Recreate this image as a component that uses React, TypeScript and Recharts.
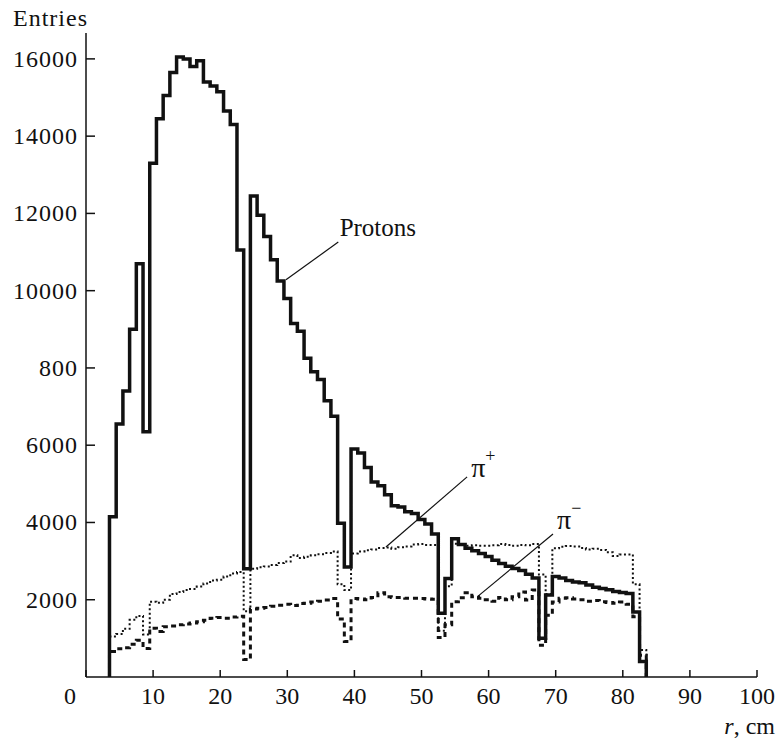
import { LineChart, Line, XAxis, YAxis, ReferenceLine, ReferenceDot } from 'recharts';

// lower edge of every 1 cm bin, r in cm
const binLow = [
  3.5, 4.5, 5.5, 6.5, 7.5, 8.5, 9.5, 10.5, 11.5, 12.5, 13.5, 14.5, 15.5, 16.5, 17.5, 18.5,
  19.5, 20.5, 21.5, 22.5, 23.5, 24.5, 25.5, 26.5, 27.5, 28.5, 29.5, 30.5, 31.5, 32.5, 33.5, 34.5,
  35.5, 36.5, 37.5, 38.5, 39.5, 40.5, 41.5, 42.5, 43.5, 44.5, 45.5, 46.5, 47.5, 48.5, 49.5, 50.5,
  51.5, 52.5, 53.5, 54.5, 55.5, 56.5, 57.5, 58.5, 59.5, 60.5, 61.5, 62.5, 63.5, 64.5, 65.5, 66.5,
  67.5, 68.5, 69.5, 70.5, 71.5, 72.5, 73.5, 74.5, 75.5, 76.5, 77.5, 78.5, 79.5, 80.5, 81.5, 82.5,
];
const lastEdge = 83.5;

const protons = [
  4150, 6550, 7400, 9000, 10700, 6350, 13300, 14450, 15050, 15650, 16050, 16000, 15800, 15950, 15400, 15300,
  15150, 14650, 14300, 11050, 2800, 12450, 11950, 11400, 10800, 10250, 9800, 9150, 8950, 8250, 7900, 7700,
  7150, 6750, 3980, 2850, 5900, 5800, 5420, 5050, 4950, 4720, 4430, 4400, 4280, 4230, 4080, 3960,
  3700, 1650, 2550, 3580, 3430, 3330, 3270, 3200, 3120, 3020, 2940, 2870, 2810, 2760, 2660, 2560,
  1000, 2120, 2600, 2560, 2500, 2460, 2440, 2380, 2320, 2290, 2260, 2210, 2190, 2160, 1680, 400,
];

const piPlus = [
  1050, 1110, 1250, 1480, 1580, 1100, 1950, 1920, 2000, 2150, 2200, 2250, 2280, 2340, 2420, 2500,
  2520, 2600, 2680, 2720, 1700, 2800, 2840, 2860, 2900, 2950, 2990, 3150, 3080, 3110, 3150, 3180,
  3210, 3250, 2400, 2250, 3200, 3250, 3280, 3300, 3340, 3350, 3320, 3360, 3380, 3430, 3440, 3420,
  3420, 1200, 2350, 3450, 3420, 3400, 3410, 3400, 3400, 3410, 3440, 3420, 3400, 3420, 3410, 3440,
  2650, 2150, 3330, 3370, 3390, 3380, 3340, 3300, 3320, 3290, 3230, 3130, 3170, 3170, 2400, 700,
];

const piMinus = [
  660, 730, 760, 850, 950, 740, 1260, 1180, 1300, 1320, 1350, 1370, 1400, 1430, 1470, 1520,
  1540, 1520, 1550, 1570, 450, 1760, 1780, 1800, 1830, 1860, 1880, 1850, 1900, 1910, 1940, 1960,
  1990, 2030, 1500, 920, 2030, 2020, 2000, 2060, 2180, 2080, 2060, 2060, 2040, 2040, 2030, 2020,
  2010, 1020, 1350, 1950, 2050, 2180, 2080, 2040, 2000, 1960, 2060, 2000, 2080, 2200, 1990, 2250,
  820, 1600, 1940, 2040, 2050, 2020, 2000, 1960, 1980, 1950, 1930, 1910, 1940, 1880, 1560, 560,
];

const xTicks = [0, 10, 20, 30, 40, 50, 60, 70, 80, 90, 100];
const yTicks = [2000, 4000, 6000, 8000, 10000, 12000, 14000, 16000];
const yTickLabels = ['2000', '4000', '6000', '800', '10000', '12000', '14000', '16000'];

const notes = [
  { name: 'Protons', sup: '', size: 25, from: { x: 29.8, y: 10280 }, to: { x: 37.6, y: 11260 }, at: { x: 37.8, y: 11420 } },
  { name: 'π', sup: '+', size: 28, from: { x: 44.7, y: 3365 }, to: { x: 56.8, y: 5180 }, at: { x: 57.4, y: 5180 } },
  { name: 'π', sup: '−', size: 28, from: { x: 58.3, y: 2075 }, to: { x: 69.6, y: 3700 }, at: { x: 70.2, y: 3830 } },
];

const data = [
  { r: binLow[0], protons: 0, piPlus: 0, piMinus: 0 },
  ...binLow.map((r, i) => ({ r, protons: protons[i], piPlus: piPlus[i], piMinus: piMinus[i] })),
  { r: lastEdge, protons: 0, piPlus: 0, piMinus: 0 },
];

const font = "'Liberation Serif', 'Times New Roman', serif";

const XTick = ({ x, y, payload }: any) => (
  <text x={payload.value === 0 ? x - 16 : x} y={y} textAnchor="middle" fontSize={24} fontFamily={font} fill="#111">
    {payload.value}
  </text>
);

const YTick = ({ x, y, payload }: any) => (
  <text x={x} y={y + 8} textAnchor="end" fontSize={24} fontFamily={font} fill="#111" letterSpacing={1}>
    {yTickLabels[yTicks.indexOf(payload.value)]}
  </text>
);

export default function App() {
  return (
    <div style={{ position: 'absolute', left: 0, top: 0, background: '#fff' }}>
      <LineChart width={778} height={741} data={data} margin={{ top: 33, right: 21, bottom: 0, left: 0 }}>
        <XAxis
          dataKey="r"
          type="number"
          domain={[0, 100]}
          ticks={xTicks}
          interval={0}
          height={64}
          stroke="#111"
          strokeWidth={1.5}
          tickSize={-7}
          tickMargin={34}
          tick={<XTick />}
          label={{
            content: ({ viewBox }: any) => (
              <text x={viewBox.x + viewBox.width + 18} y={viewBox.y + 57} textAnchor="end" fontSize={24} fontFamily={font} fill="#111">
                <tspan fontStyle="italic">r</tspan>, cm
              </text>
            ),
          }}
        />
        <YAxis
          type="number"
          domain={[0, 16670]}
          ticks={yTicks}
          interval={0}
          width={86}
          stroke="#111"
          strokeWidth={1.5}
          tickSize={-9}
          tickMargin={17}
          tick={<YTick />}
          label={{
            content: ({ viewBox }: any) => (
              <text x={viewBox.x + 13} y={viewBox.y - 7} fontSize={24} fontFamily={font} fill="#111" letterSpacing={1}>
                Entries
              </text>
            ),
          }}
        />
        <Line dataKey="piPlus" type="stepAfter" stroke="#111" strokeWidth={2} strokeDasharray="2 2.5" dot={false} isAnimationActive={false} />
        <Line dataKey="piMinus" type="stepAfter" stroke="#111" strokeWidth={3} strokeDasharray="5 4" dot={false} isAnimationActive={false} />
        <Line dataKey="protons" type="stepAfter" stroke="#111" strokeWidth={3.5} dot={false} isAnimationActive={false} />
        {notes.map((n, i) => (
          <ReferenceLine key={'l' + i} segment={[n.from, n.to]} stroke="#111" strokeWidth={1.2} />
        ))}
        {notes.map((n, i) => (
          <ReferenceDot
            key={'t' + i}
            x={n.at.x}
            y={n.at.y}
            r={0}
            fill="none"
            stroke="none"
            label={{
              content: ({ viewBox }: any) => (
                <text x={viewBox.x} y={viewBox.y} fontSize={n.size} fontFamily={font} fill="#111">
                  {n.name}
                  {n.sup && <tspan dy={-15} fontSize={18}>{n.sup}</tspan>}
                </text>
              ),
            }}
          />
        ))}
      </LineChart>
    </div>
  );
}
